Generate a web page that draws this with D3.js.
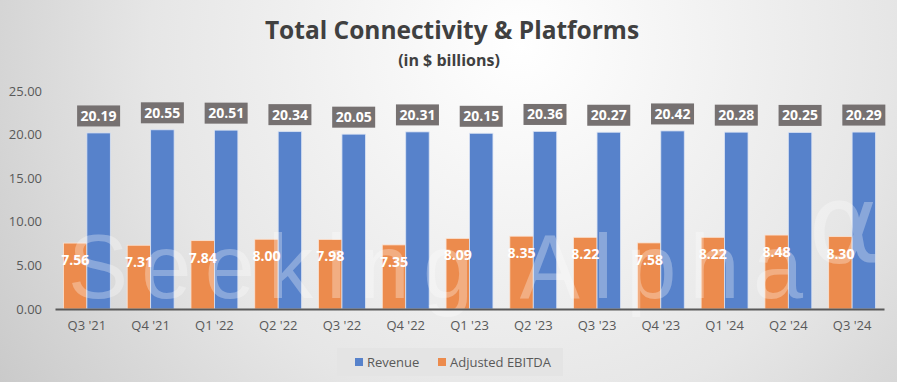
<!DOCTYPE html>
<html><head><meta charset="utf-8">
<script src="https://cdn.jsdelivr.net/npm/d3@7"></script>
<style>body{margin:0;}svg{display:block;}</style>
</head><body>
<script>
const categories = ["Q3 '21","Q4 '21","Q1 '22","Q2 '22","Q3 '22","Q4 '22","Q1 '23","Q2 '23","Q3 '23","Q4 '23","Q1 '24","Q2 '24","Q3 '24"];
const revenue = [20.19,20.55,20.51,20.34,20.05,20.31,20.15,20.36,20.27,20.42,20.28,20.25,20.29];
const ebitda = [7.56,7.31,7.84,8.00,7.98,7.35,8.09,8.35,8.22,7.58,8.22,8.48,8.30];
const yTicks = [0,5,10,15,20,25];
const seriesNames = ["Revenue","Adjusted EBITDA"];

const W=897,H=382;
const blue="#5782CB", orange="#EC8B4D";
const font="'Open Sans', 'Noto Sans', sans-serif";
const svg=d3.select("body").append("svg").attr("width",W).attr("height",H);
const defs=svg.append("defs");
const rg=defs.append("radialGradient").attr("id","bg").attr("cx","0.58").attr("cy","0.12").attr("r","0.75")
  .attr("gradientTransform","translate(0.58,0.12) scale(1,2.35) translate(-0.58,-0.12)");
rg.append("stop").attr("offset","0").attr("stop-color","#ffffff");
rg.append("stop").attr("offset","0.55").attr("stop-color","#e6e6e6");
rg.append("stop").attr("offset","1").attr("stop-color","#c4c4c4");
svg.append("rect").attr("width",W).attr("height",H).attr("fill","url(#bg)");

svg.append("text").attr("x",452).attr("y",39).attr("text-anchor","middle")
  .attr("font-family",font).attr("font-weight","bold").attr("font-size",24.5).attr("fill","#404040")
  .text("Total Connectivity & Platforms");
svg.append("text").attr("x",449).attr("y",66).attr("text-anchor","middle")
  .attr("font-family",font).attr("font-weight","bold").attr("font-size",16).attr("fill","#404040")
  .text("(in $ billions)");

const x=d3.scaleBand().domain(categories).range([55,884]).padding(0);
const sub=d3.scaleBand().domain(["e","r"]).range([0,x.step()]).paddingInner(0).paddingOuter(0.36);
const y=d3.scaleLinear().domain([0,25]).range([309,91]);

const ya=svg.append("g").attr("transform","translate(42,0)")
  .call(d3.axisLeft(y).tickValues(yTicks).tickFormat(d3.format(".2f")).tickSize(0).tickPadding(0));
ya.select(".domain").remove();
ya.selectAll("text").attr("font-family",font).attr("font-size",13).attr("fill","#595959");

const g=svg.append("g");
g.selectAll(".eb").data(categories).join("rect")
  .attr("x",d=>x(d)+sub("e")).attr("width",sub.bandwidth())
  .attr("y",(d,i)=>y(ebitda[i])).attr("height",(d,i)=>y(0)-y(ebitda[i]))
  .attr("fill",orange).attr("stroke","#fbe3d3").attr("stroke-width",0.8);
g.selectAll(".rv").data(categories).join("rect")
  .attr("x",d=>x(d)+sub("r")).attr("width",sub.bandwidth())
  .attr("y",(d,i)=>y(revenue[i])).attr("height",(d,i)=>y(0)-y(revenue[i]))
  .attr("fill",blue).attr("stroke","#d9e2f3").attr("stroke-width",0.8);

// watermark
const wm=svg.append("g").attr("fill","#ffffff").attr("fill-opacity",0.3);
wm.append("text").attr("x",68).attr("y",298).attr("font-size",90).attr("font-family","'Liberation Sans', Arial, sans-serif")
  .attr("textLength",735).attr("lengthAdjust","spacing").text("Seeking Alpha");
wm.append("text").attr("x",808).attr("y",262).attr("font-size",110).attr("font-family","'DejaVu Sans', sans-serif").text("α");

const xa=svg.append("g").attr("transform","translate(0,309)")
  .call(d3.axisBottom(x).tickSize(0).tickPadding(12));
xa.select(".domain").attr("stroke","#595959").attr("stroke-width",2);
xa.selectAll("text").attr("font-family",font).attr("font-size",13).attr("fill","#595959");

const rl=svg.append("g");
categories.forEach((c,i)=>{
  const cx=x(c)+sub("r")+sub.bandwidth()/2;
  const ty=y(revenue[i])-17;
  rl.append("rect").attr("x",cx-21.5).attr("y",ty-10.5).attr("width",43).attr("height",21).attr("fill","#767171");
  rl.append("text").attr("x",cx).attr("y",ty+5).attr("text-anchor","middle")
    .attr("font-family",font).attr("font-weight","bold").attr("font-size",14).attr("fill","#fff").text(revenue[i].toFixed(2));
});
categories.forEach((c,i)=>{
  const cx=x(c)+sub("e")+sub.bandwidth()/2;
  rl.append("text").attr("x",cx).attr("y",y(ebitda[i])+22).attr("text-anchor","middle")
    .attr("font-family",font).attr("font-weight","bold").attr("font-size",14).attr("fill","#fff").text(ebitda[i].toFixed(2));
});

const lg=svg.append("g");
lg.append("rect").attr("x",337).attr("y",348).attr("width",226).attr("height",28).attr("fill","#e4e4e4");
const lItems=[{n:seriesNames[0],c:blue,x:355},{n:seriesNames[1],c:orange,x:438}];
lItems.forEach(it=>{
  lg.append("rect").attr("x",it.x).attr("y",358).attr("width",8).attr("height",8).attr("fill",it.c);
  lg.append("text").attr("x",it.x+12).attr("y",366.5).attr("font-family",font).attr("font-size",13).attr("fill","#595959").text(it.n);
});
</script>
</body></html>
